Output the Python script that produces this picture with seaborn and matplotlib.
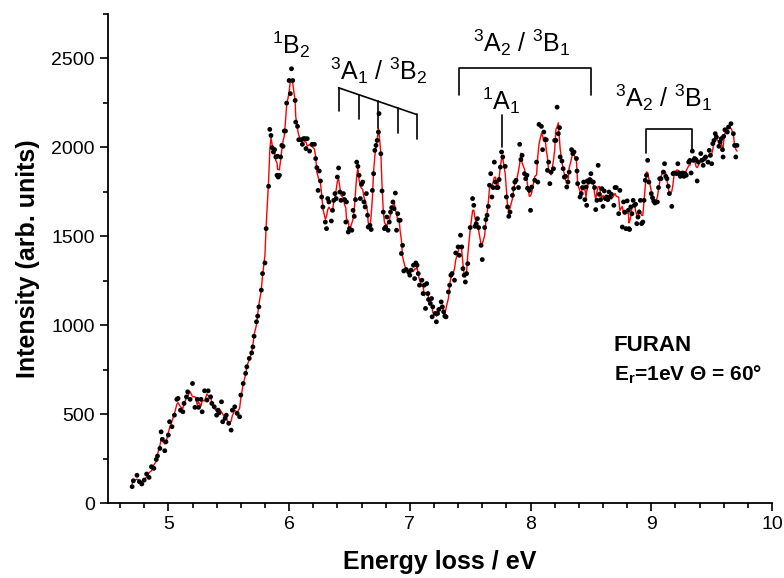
import numpy as np
import pandas as pd
import matplotlib
matplotlib.use("Agg")
import matplotlib.pyplot as plt
from matplotlib.ticker import MultipleLocator
import seaborn as sns

# ---------------- data ----------------
energy = [
    4.70, 4.71, 4.74, 4.76, 4.78, 4.80, 4.82, 4.84, 4.86, 4.88,
    4.90, 4.91, 4.93, 4.94, 4.95, 4.97, 4.98, 5.00, 5.01, 5.03,
    5.05, 5.07, 5.08, 5.10, 5.12, 5.13, 5.15, 5.16, 5.18, 5.20,
    5.22, 5.24, 5.25, 5.27, 5.28, 5.30, 5.32, 5.33, 5.35, 5.36,
    5.38, 5.40, 5.41, 5.42, 5.44, 5.45, 5.47, 5.48, 5.50, 5.52,
    5.53, 5.55, 5.57, 5.59, 5.60, 5.62, 5.64, 5.65, 5.67, 5.69,
    5.70, 5.71, 5.73, 5.74, 5.75, 5.77, 5.78, 5.80, 5.81, 5.83,
    5.84, 5.85, 5.86, 5.87, 5.88, 5.89, 5.90, 5.905, 5.91, 5.92,
    5.93, 5.94, 5.95, 5.96, 5.97, 5.98, 6.00, 6.01, 6.02, 6.03,
    6.05, 6.055, 6.07, 6.08, 6.10, 6.11, 6.12, 6.13, 6.14, 6.15,
    6.17, 6.19, 6.21, 6.22, 6.23, 6.24, 6.25, 6.26, 6.27, 6.28,
    6.30, 6.31, 6.32, 6.33, 6.35, 6.36, 6.37, 6.38, 6.39, 6.40,
    6.41, 6.42, 6.43, 6.45, 6.46, 6.47, 6.475, 6.49, 6.50, 6.52,
    6.53, 6.54, 6.55, 6.56, 6.57, 6.58, 6.59, 6.60, 6.61, 6.62,
    6.63, 6.64, 6.65, 6.655, 6.67, 6.68, 6.69, 6.70, 6.71, 6.72,
    6.73, 6.74, 6.745, 6.76, 6.77, 6.78, 6.79, 6.80, 6.81, 6.82,
    6.83, 6.84, 6.85, 6.86, 6.87, 6.88, 6.89, 6.90, 6.91, 6.92,
    6.93, 6.94, 6.95, 6.97, 6.99, 7.00, 7.01, 7.03, 7.04, 7.05,
    7.06, 7.07, 7.08, 7.10, 7.11, 7.12, 7.13, 7.14, 7.15, 7.155,
    7.17, 7.18, 7.185, 7.19, 7.21, 7.22, 7.23, 7.24, 7.26, 7.27,
    7.28, 7.29, 7.30, 7.32, 7.33, 7.34, 7.35, 7.37, 7.38, 7.40,
    7.41, 7.42, 7.43, 7.44, 7.45, 7.46, 7.47, 7.48, 7.50, 7.52,
    7.53, 7.54, 7.55, 7.56, 7.57, 7.59, 7.60, 7.62, 7.63, 7.64,
    7.65, 7.66, 7.67, 7.68, 7.69, 7.70, 7.71, 7.72, 7.73, 7.74,
    7.75, 7.76, 7.77, 7.79, 7.80, 7.81, 7.82, 7.83, 7.85, 7.86,
    7.87, 7.88, 7.90, 7.91, 7.92, 7.93, 7.95, 7.96, 7.97, 7.975,
    7.99, 8.00, 8.01, 8.035, 8.05, 8.06, 8.07, 8.09, 8.10, 8.11,
    8.12, 8.13, 8.14, 8.15, 8.16, 8.17, 8.19, 8.20, 8.21, 8.22,
    8.23, 8.24, 8.245, 8.26, 8.27, 8.28, 8.29, 8.30, 8.31, 8.32,
    8.34, 8.35, 8.36, 8.38, 8.385, 8.39, 8.41, 8.42, 8.43, 8.44,
    8.45, 8.46, 8.465, 8.47, 8.48, 8.49, 8.50, 8.51, 8.52, 8.53,
    8.54, 8.55, 8.56, 8.57, 8.58, 8.59, 8.60, 8.61, 8.62, 8.63,
    8.64, 8.65, 8.66, 8.67, 8.69, 8.70, 8.71, 8.73, 8.74, 8.76,
    8.77, 8.78, 8.79, 8.80, 8.81, 8.815, 8.82, 8.83, 8.84, 8.85,
    8.86, 8.87, 8.88, 8.89, 8.90, 8.91, 8.92, 8.93, 8.94, 8.95,
    8.96, 8.97, 8.98, 9.00, 9.01, 9.02, 9.03, 9.05, 9.06, 9.07,
    9.08, 9.10, 9.11, 9.12, 9.13, 9.14, 9.15, 9.17, 9.18, 9.19,
    9.21, 9.22, 9.23, 9.24, 9.26, 9.27, 9.28, 9.29, 9.31, 9.32,
    9.33, 9.34, 9.35, 9.36, 9.37, 9.38, 9.39, 9.41, 9.42, 9.43,
    9.44, 9.45, 9.47, 9.48, 9.49, 9.50, 9.51, 9.52, 9.53, 9.54,
    9.56, 9.57, 9.58, 9.59, 9.595, 9.60, 9.61, 9.63, 9.64, 9.66,
    9.68, 9.69, 9.70, 9.71,
]
intensity = [
    92, 125, 156, 120, 107, 129, 163, 144, 204, 195,
    245, 264, 307, 400, 358, 294, 344, 382, 457, 429,
    494, 583, 588, 522, 513, 560, 597, 625, 583, 672,
    538, 583, 538, 583, 513, 631, 579, 631, 597, 560,
    541, 494, 522, 507, 569, 457, 476, 494, 448, 410,
    522, 541, 504, 485, 607, 672, 729, 766, 813, 844,
    878, 938, 1019, 1051, 1103, 1197, 1290, 1350, 1543, 1781,
    2101, 2067, 1998, 1974, 1987, 1946, 1843, 1950, 1833, 1843,
    1946, 2011, 2006, 2092, 2092, 2249, 2376, 2302, 2442, 2376,
    2264, 2142, 2118, 2043, 2043, 2017, 2049, 2049, 1993, 2049,
    1979, 2017, 2017, 1937, 1886, 1758, 1867, 1811, 1721, 1665,
    1580, 1543, 1712, 1693, 1586, 1646, 1702, 1740, 1712, 1833,
    1884, 1749, 1702, 1740, 1706, 1580, 1693, 1524, 1543, 1534,
    1646, 1612, 1706, 1917, 1893, 1843, 1712, 1792, 1805, 1693,
    1665, 1740, 1618, 1552, 1562, 1538, 1758, 1852, 1983, 2011,
    2039, 2086, 2190, 1964, 1755, 1636, 1543, 1552, 1608, 1534,
    1580, 1636, 1661, 1693, 1655, 1743, 1534, 1627, 1590, 1590,
    1403, 1449, 1305, 1313, 1299, 1281, 1309, 1337, 1262, 1350,
    1337, 1290, 1225, 1253, 1178, 1225, 1094, 1234, 1178, 1144,
    1122, 1150, 1047, 1103, 1066, 1019, 1066, 1088, 1131, 1103,
    1075, 1051, 1047, 1187, 1225, 1281, 1290, 1253, 1406, 1440,
    1393, 1506, 1440, 1318, 1281, 1243, 1290, 1346, 1549, 1712,
    1674, 1556, 1571, 1599, 1549, 1449, 1369, 1549, 1594, 1618,
    1668, 1787, 1852, 1721, 1774, 1917, 1805, 1774, 1774, 1819,
    1889, 1974, 1946, 1893, 1721, 1665, 1612, 1636, 1730, 1768,
    1805, 1815, 1774, 2017, 1931, 1955, 1852, 1824, 1843, 1770,
    1758, 1646, 1777, 1815, 1917, 1805, 2129, 2118, 1987, 2086,
    2043, 2043, 1871, 1917, 1796, 1861, 1880, 2039, 2039, 2226,
    2077, 2111, 1946, 1923, 1880, 1833, 1837, 1777, 1805, 1861,
    1987, 1965, 1974, 1937, 1867, 1796, 1721, 1740, 1774, 1805,
    1706, 1777, 1674, 1811, 1805, 1819, 1852, 1805, 1805, 1774,
    1650, 1702, 1899, 1736, 1706, 1768, 1668, 1755, 1712, 1721,
    1706, 1749, 1721, 1736, 1674, 1774, 1774, 1627, 1758, 1552,
    1693, 1636, 1543, 1699, 1646, 1543, 1538, 1665, 1627, 1702,
    1674, 1680, 1571, 1608, 1636, 1702, 1571, 1580, 1702, 1815,
    1843, 1927, 1805, 1740, 1717, 1699, 1687, 1693, 1774, 1824,
    1824, 1861, 1908, 1837, 1824, 1781, 1740, 1668, 1852, 1856,
    1852, 1908, 1856, 1837, 1856, 1837, 1852, 1843, 1917, 1927,
    1856, 1979, 1927, 1937, 1931, 1811, 1917, 1965, 1927, 1899,
    1937, 1946, 1917, 1983, 1955, 1908, 2021, 2039, 2077, 2058,
    2006, 2030, 2049, 1987, 1946, 2062, 2099, 2086, 2114, 2133,
    2077, 2011, 1946, 2011,
]
assert len(energy) == len(intensity)

# annotation labels
label_1B2 = r"$^1$B$_2$"
label_3A1_3B2 = r"$^3$A$_1$ / $^3$B$_2$"
label_3A2_3B1 = r"$^3$A$_2$ / $^3$B$_1$"
label_1A1 = r"$^1$A$_1$"
molecule = "FURAN"
conditions = r"E$_r$=1eV $\Theta$ = 60°"
comb_positions = [6.41, 6.575, 6.74, 6.90, 7.056]

# ---------------- style ----------------
sns.set_style("ticks")
plt.rcParams["font.family"] = ["Liberation Sans", "DejaVu Sans"]
plt.rcParams["mathtext.default"] = "regular"
plt.rcParams["mathtext.fontset"] = "custom"
plt.rcParams["mathtext.rm"] = "Liberation Sans"
plt.rcParams["mathtext.bf"] = "Liberation Sans:bold"
plt.rcParams["text.color"] = "black"
plt.rcParams["axes.labelcolor"] = "black"
plt.rcParams["xtick.color"] = "black"
plt.rcParams["ytick.color"] = "black"

df = pd.DataFrame({"energy": energy, "intensity": intensity})
df["smooth"] = df["intensity"].rolling(3, center=True, min_periods=1).mean()

fig = plt.figure(figsize=(7.84, 5.78), dpi=100)
ax = fig.add_axes([108 / 784, 1 - 503 / 578, (772 - 108) / 784, (503 - 14) / 578])

sns.lineplot(data=df, x="energy", y="smooth", ax=ax, color="red", lw=1.0,
             sort=False, estimator=None, zorder=2)
sns.scatterplot(data=df, x="energy", y="intensity", ax=ax, color="black",
                s=12, edgecolor="none", zorder=3)

ax.set_xlim(4.5, 10)
ax.set_ylim(0, 2750)
ax.xaxis.set_major_locator(MultipleLocator(1))
ax.xaxis.set_minor_locator(MultipleLocator(0.2))
ax.yaxis.set_major_locator(MultipleLocator(500))
ax.yaxis.set_minor_locator(MultipleLocator(250))
ax.tick_params(which="major", direction="out", length=6, width=1.2, labelsize=14,
               colors="black")
ax.tick_params(which="minor", direction="out", length=3.5, width=1.2, colors="black")
for s in ("left", "bottom"):
    ax.spines[s].set_linewidth(1.3)
    ax.spines[s].set_color("black")
sns.despine(ax=ax)

ax.set_xlabel("Energy loss / eV", fontsize=18, fontweight="bold", labelpad=12, color="black")
ax.set_ylabel("Intensity (arb. units)", fontsize=18, fontweight="bold", labelpad=8, color="black")

# ---------------- annotations ----------------
kw = dict(ha="center", va="center", fontsize=18, color="black")
ax.text(6.02, 2575, label_1B2, **kw)
ax.text(6.74, 2433, label_3A1_3B2, **kw)
ax.text(7.93, 2590, label_3A2_3B1, **kw)
ax.text(7.76, 2262, label_1A1, **kw)
ax.text(9.10, 2281, label_3A2_3B1, **kw)

lk = dict(color="black", lw=1.2)
# comb for 3A1/3B2
x0, x1 = comb_positions[0], comb_positions[-1]
y0, y1 = 2335, 2185
ax.plot([x0, x1], [y0, y1], **lk)
drops = [130, 135, 148, 140, 136]
for xp, d in zip(comb_positions, drops):
    yt = y0 + (y1 - y0) * (xp - x0) / (x1 - x0)
    ax.plot([xp, xp], [yt, yt - d], **lk)
# big bracket
ax.plot([7.41, 7.41, 8.50, 8.50], [2292, 2444, 2444, 2292], **lk)
# 1A1 marker
ax.plot([7.765, 7.765], [2180, 2000], **lk)
# right bracket
ax.plot([8.96, 8.96, 9.34, 9.34], [1968, 2101, 2101, 1983], **lk)

ax.text(8.69, 888, molecule, fontsize=16, fontweight="bold", ha="left", va="center",
        color="black")
ax.text(8.69, 719, conditions, fontsize=15, fontweight="bold", ha="left", va="center",
        color="black")

fig.savefig("out.png", dpi=100)
